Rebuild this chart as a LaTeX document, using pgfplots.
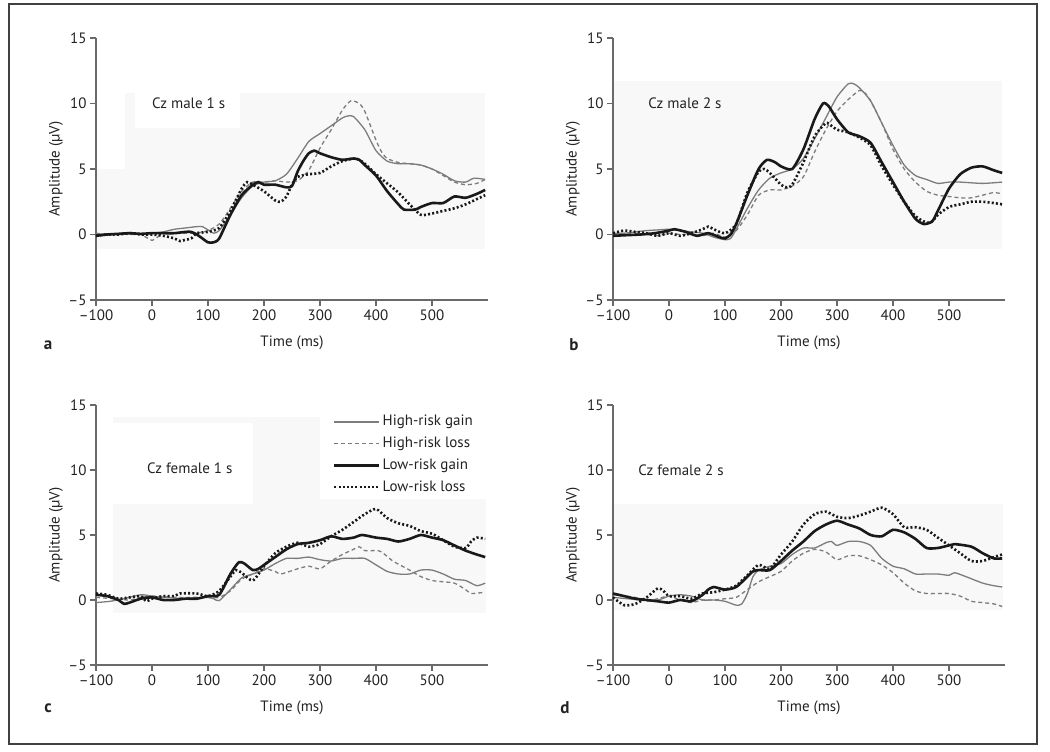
\documentclass[border=0pt]{standalone}
\usepackage{fontspec}
\setmainfont{PT Sans}
\usepackage{pgfplots}
\pgfplotsset{compat=1.18}
\definecolor{axgray}{HTML}{6A6A6A}
\definecolor{txt}{HTML}{222222}
\definecolor{hg}{HTML}{7C7C7C}
\definecolor{bgfill}{HTML}{F8F8F8}
\newcommand{\fs}{\fontsize{15}{18}\selectfont}
\pgfplotsset{
  erp/.style={
    scale only axis, width=392pt, height=262pt,
    xmin=-100, xmax=600, ymin=-5, ymax=15,
    axis lines=left, axis line style={axgray, line width=1.2pt, -},
    xtick={-100,0,100,200,300,400,500},
    xticklabels={\textendash100,0,100,200,300,400,500},
    ytick={-5,0,5,10,15}, yticklabels={\textendash5,0,5,10,15},
    tick style={axgray, line width=1.2pt}, tick align=outside, major tick length=6pt,
    tick label style={font=\fs, text=txt},
    xlabel={Time (ms)}, ylabel={Amplitude (µV)},
    every axis x label/.style={at={(axis description cs:0.5,-0.163)}, anchor=center, font=\fs, text=txt},
    every axis y label/.style={at={(axis description cs:-0.102,0.5)}, anchor=center, rotate=90, font=\fs, text=txt},
    clip=false,
  },
  hgs/.style={hg, line width=1.3pt, smooth, tension=0.4},
  hls/.style={hg, line width=1.3pt, dash pattern=on 4pt off 3pt, smooth, tension=0.4},
  lgs/.style={black!90, line width=2.6pt, smooth, tension=0.4},
  lls/.style={black!90, line width=2.6pt, dash pattern=on 2pt off 2.2pt, smooth, tension=0.4},
}
\begin{document}
\begin{tikzpicture}[x=1pt,y=1pt]
\useasboundingbox (0,0) rectangle (1050,752);
\draw[line width=2pt, black!75] (9,8) rectangle (1037,748);

% ---------------- panel a
\begin{axis}[erp, at={(96pt,452pt)}, anchor=south west]
\fill[bgfill] (axis cs:-99,-1.1) rectangle (axis cs:594,10.8);
\fill[white] (axis cs:-99,5) rectangle (axis cs:-48,10.8);
\fill[white] (axis cs:-30,8.1) rectangle (axis cs:158,10.8);
\node[anchor=west, inner sep=0, font=\fs, text=txt] at (axis cs:0,10) {Cz male 1 s};
\addplot[hgs] coordinates {(-100,0.0)(-80,0.05)(-60,0.05)(-40,0.1)(-20,0.05)(0,0.1)(20,0.2)(40,0.4)(60,0.5)(80,0.6)(90,0.6)(100,0.35)(110,0.1)(120,0.3)(140,1.5)(160,2.8)(180,3.7)(200,4.0)(220,4.1)(240,4.6)(260,5.8)(280,7.1)(300,7.7)(320,8.3)(340,8.9)(350,9.05)(360,9.0)(380,8.0)(400,6.4)(420,5.6)(440,5.4)(460,5.4)(480,5.3)(500,5.0)(520,4.6)(540,4.1)(560,4.0)(575,4.3)(595,4.2)};
\addplot[hls] coordinates {(-100,0.1)(-80,0)(-60,0.05)(-40,0)(-20,0)(0,-0.45)(10,-0.2)(20,0.1)(40,0.1)(60,0.1)(80,0.1)(100,0.3)(120,0.8)(140,2.0)(160,3.3)(180,4.0)(200,4.0)(220,4.1)(240,4.0)(260,4.1)(280,4.9)(300,6.6)(320,8.0)(340,9.5)(355,10.2)(370,10.0)(380,9.4)(400,7.2)(410,6.3)(420,5.8)(440,5.5)(460,5.4)(480,5.3)(500,5.0)(520,4.5)(540,4.0)(560,3.8)(580,3.9)(595,4.2)};
\addplot[lgs] coordinates {(-100,-0.1)(-80,0)(-60,0.05)(-40,0.1)(-20,0.05)(0,0.1)(20,0.1)(40,0.1)(60,0.2)(70,0.2)(80,0)(90,-0.3)(100,-0.6)(110,-0.6)(120,-0.3)(140,1.5)(160,3.0)(180,3.8)(190,4.0)(200,3.8)(220,3.8)(240,3.6)(250,3.7)(260,4.8)(270,5.6)(280,6.2)(290,6.4)(300,6.2)(320,5.9)(340,5.7)(360,5.8)(370,5.7)(380,5.3)(400,4.5)(420,3.3)(440,2.3)(450,1.9)(470,1.9)(480,2.1)(500,2.4)(520,2.4)(540,2.9)(560,2.8)(580,3.1)(595,3.4)};
\addplot[lls] coordinates {(-100,-0.1)(-80,0)(-60,0)(-40,0.1)(-20,0)(0,0)(20,-0.1)(40,-0.3)(50,-0.5)(60,-0.4)(70,-0.3)(80,0.1)(100,0.2)(120,0.5)(140,1.8)(160,3.5)(170,4.0)(180,3.8)(200,3.3)(220,2.6)(230,2.5)(240,2.9)(250,3.8)(260,4.4)(280,4.6)(300,4.7)(320,5.2)(340,5.6)(360,5.8)(370,5.7)(380,5.4)(400,4.6)(420,3.9)(440,3.2)(460,2.3)(480,1.5)(500,1.6)(520,1.8)(540,2.0)(560,2.3)(580,2.7)(595,3.0)};
\end{axis}

% ---------------- panel b
\begin{axis}[erp, at={(613pt,452pt)}, anchor=south west]
\fill[bgfill] (axis cs:-99,-1.1) rectangle (axis cs:595,11.7);
\node[anchor=west, inner sep=0, font=\fs, text=txt] at (axis cs:-37,10) {Cz male 2 s};
\addplot[hgs] coordinates {(-100,0.1)(-80,0.1)(-60,0.2)(-40,0.3)(-20,0.35)(0,0.4)(20,0.3)(40,0.2)(60,0.1)(80,-0.2)(100,-0.4)(110,-0.3)(120,0.4)(140,2.0)(160,3.4)(180,4.3)(200,4.7)(220,5.0)(240,5.8)(260,7.3)(280,8.9)(300,10.5)(320,11.5)(330,11.5)(340,11.2)(360,10.2)(380,8.5)(400,6.8)(420,5.3)(440,4.5)(460,4.2)(480,3.9)(500,4.0)(520,4.0)(560,3.9)(595,4.0)};
\addplot[hls] coordinates {(-100,0)(-80,0)(-60,0.1)(-40,0)(-20,-0.1)(0,0.1)(20,0)(40,0)(60,-0.1)(80,0.1)(100,-0.2)(120,0.3)(140,1.5)(160,3.0)(180,3.4)(200,3.4)(220,3.7)(240,4.4)(260,6.3)(280,8.0)(300,9.4)(320,10.3)(340,11.0)(350,10.8)(360,10.2)(380,8.5)(400,6.5)(420,5.0)(440,4.0)(460,3.3)(480,3.0)(500,2.9)(520,2.8)(540,2.8)(560,3.0)(580,3.2)(595,3.1)};
\addplot[lgs] coordinates {(-100,-0.1)(-75,-0.05)(-50,0)(-25,0.1)(0,0.3)(10,0.4)(30,0.2)(50,-0.1)(70,0.1)(90,-0.2)(100,-0.3)(110,0)(120,0.8)(140,3.0)(160,5.0)(175,5.7)(190,5.5)(200,5.2)(220,5.0)(240,6.5)(260,8.8)(275,10.0)(285,9.8)(300,8.8)(320,7.8)(340,7.5)(360,7.0)(380,5.5)(400,4.0)(420,2.5)(440,1.2)(455,0.8)(470,1.0)(480,1.8)(500,3.5)(520,4.6)(540,5.1)(560,5.2)(580,4.9)(595,4.7)};
\addplot[lls] coordinates {(-100,0.1)(-80,0.3)(-60,0.2)(-40,0.1)(-20,-0.1)(0,0.1)(20,-0.1)(40,0.1)(60,0.4)(70,0.6)(80,0.4)(100,0.1)(120,0.8)(140,3.2)(160,4.8)(170,5.0)(180,4.7)(200,3.8)(210,3.6)(220,3.8)(240,5.5)(260,7.5)(280,8.5)(290,8.3)(300,8.0)(320,7.8)(340,7.4)(360,6.8)(380,5.2)(400,3.8)(420,2.5)(440,1.4)(460,0.9)(470,1.0)(480,1.5)(500,2.1)(520,2.3)(540,2.5)(560,2.5)(580,2.4)(595,2.3)};
\end{axis}

% ---------------- panel c
\begin{axis}[erp, height=260pt, at={(96pt,87pt)}, anchor=south west,
  legend style={at={(axis cs:323,14.4)}, anchor=north west, draw=none, fill=none,
    font=\fs, text=txt, row sep=3.7pt, inner sep=0pt,
    nodes={text height=11pt, text depth=3pt, inner ysep=2pt}},
  legend cell align=left,
  legend image code/.code={\draw[#1] (0pt,0pt) -- (45pt,0pt);}]
\fill[bgfill] (axis cs:-69,-1.0) rectangle (axis cs:597,14.1);
\fill[white] (axis cs:-69,7.4) rectangle (axis cs:181,13.6);
\fill[white] (axis cs:300,7.8) rectangle (axis cs:597,14.1);
\node[anchor=west, inner sep=0, font=\fs, text=txt] at (axis cs:-9,10.1) {Cz female 1 s};
\addplot[hgs] coordinates {(-100,-0.2)(-75,-0.1)(-50,0.1)(-20,0.4)(0,0.3)(20,0.2)(40,0.15)(60,0.1)(80,0.15)(100,0.2)(110,0.1)(120,-0.05)(140,0.8)(160,1.7)(180,2.0)(200,2.3)(220,2.8)(240,3.2)(260,3.2)(280,3.3)(300,3.1)(320,3.0)(340,3.2)(360,3.2)(380,3.2)(400,2.7)(420,2.2)(440,2.0)(460,2.0)(480,2.3)(500,2.3)(520,2.0)(540,1.6)(560,1.5)(580,1.1)(595,1.3)};
\addlegendentry{High-risk gain}
\addplot[hls] coordinates {(-100,0.2)(-70,0.1)(-40,0)(-20,0.2)(0,0.3)(25,0.25)(50,0.2)(75,0.2)(100,0.2)(120,0.2)(140,0.7)(160,1.6)(180,2.0)(200,2.4)(220,2.2)(230,2.0)(260,2.4)(280,2.6)(300,2.4)(320,3.0)(340,3.5)(360,3.9)(370,4.1)(380,3.8)(400,3.8)(410,3.7)(430,3.0)(460,2.3)(480,1.8)(500,1.5)(520,1.4)(540,1.3)(560,0.8)(570,0.5)(595,0.6)};
\addlegendentry{High-risk loss}
\addplot[lgs] coordinates {(-100,0.4)(-80,0.3)(-60,0)(-50,-0.3)(-40,-0.2)(-20,0.1)(0,0.2)(20,0)(40,0)(60,0.1)(80,0.1)(100,0.3)(120,0.4)(140,2.0)(155,2.9)(165,2.8)(180,2.3)(190,2.4)(200,2.7)(220,3.3)(240,3.9)(260,4.3)(280,4.4)(300,4.6)(320,4.9)(340,4.7)(360,4.8)(375,5.0)(400,4.8)(420,4.7)(440,4.5)(460,4.7)(480,5.0)(500,4.8)(520,4.6)(540,4.2)(560,3.8)(580,3.5)(595,3.3)};
\addlegendentry{Low-risk gain}
\addplot[lls] coordinates {(-100,0.5)(-80,0.4)(-60,0.1)(-40,0.2)(-20,0.3)(-10,-0.1)(0,0.1)(20,0.3)(40,0.3)(50,0.5)(80,0.5)(100,0.3)(120,0.7)(140,1.8)(150,2.3)(160,2.1)(180,1.5)(200,2.6)(220,3.6)(240,4.1)(260,4.4)(280,4.1)(300,4.3)(320,4.9)(340,5.4)(360,6.0)(380,6.6)(400,7.0)(420,6.3)(440,5.9)(460,5.7)(480,5.3)(500,5.1)(520,4.6)(540,4.1)(560,4.0)(570,4.5)(580,4.8)(595,4.7)};
\addlegendentry{Low-risk loss}
\end{axis}

% ---------------- panel d
\begin{axis}[erp, height=260pt, at={(613pt,87pt)}, anchor=south west]
\fill[bgfill] (axis cs:-99,-0.8) rectangle (axis cs:597,7.4);
\node[anchor=west, inner sep=0, font=\fs, text=txt] at (axis cs:-55,10) {Cz female 2 s};
\addplot[hgs] coordinates {(-100,0.2)(-75,0.1)(-50,0)(-20,0)(0,0.3)(20,0.4)(40,0.3)(60,0)(80,0)(100,-0.1)(120,-0.4)(130,-0.3)(140,0.5)(150,1.8)(160,2.3)(180,2.6)(200,2.8)(220,3.5)(240,4.0)(260,4.0)(280,4.4)(290,4.5)(300,4.2)(320,4.5)(340,4.5)(360,4.2)(380,3.2)(400,2.6)(420,2.4)(440,2.0)(460,2.0)(480,2.0)(500,1.9)(510,2.1)(530,1.8)(560,1.3)(580,1.1)(595,1.0)};
\addplot[hls] coordinates {(-100,0.4)(-60,0.2)(-40,-0.1)(-20,0.1)(0,0.3)(20,0)(40,-0.2)(60,0)(80,0)(100,0.1)(120,0.2)(140,0.8)(160,1.4)(180,1.8)(200,2.2)(220,3.0)(240,3.6)(260,3.9)(280,3.7)(300,3.1)(320,3.4)(340,3.4)(360,3.1)(380,2.7)(400,2.1)(420,1.3)(440,0.7)(460,0.5)(480,0.5)(500,0.5)(520,0.3)(540,-0.1)(560,-0.2)(580,-0.3)(595,-0.5)};
\addplot[lgs] coordinates {(-100,0.5)(-80,0.3)(-60,0.1)(-40,0)(-20,-0.1)(0,-0.2)(20,0)(40,-0.1)(60,0.4)(70,0.8)(80,1.0)(100,0.8)(120,1.0)(140,1.8)(150,2.2)(160,2.3)(180,2.3)(200,3.0)(220,3.8)(240,4.5)(260,5.3)(280,5.8)(300,6.1)(320,5.8)(340,5.5)(360,5.0)(380,4.9)(400,5.4)(420,5.2)(440,4.7)(460,4.0)(480,4.0)(500,4.2)(510,4.3)(540,4.1)(560,3.6)(580,3.2)(595,3.2)};
\addplot[lls] coordinates {(-100,0.2)(-80,-0.4)(-60,-0.3)(-40,0.2)(-20,0.9)(-10,0.7)(0,0.3)(20,0.3)(40,0.1)(60,0.5)(80,0.6)(100,0.8)(120,1.1)(140,1.9)(160,2.7)(180,2.4)(200,3.5)(220,4.5)(240,5.8)(260,6.6)(280,6.8)(300,6.4)(320,6.3)(340,6.5)(360,6.8)(380,7.1)(400,6.6)(420,5.6)(440,5.6)(460,5.4)(480,4.8)(500,4.2)(520,3.6)(540,3.0)(560,3.0)(580,3.3)(595,3.5)};
\end{axis}

\node[font=\bfseries\fontsize{17}{19}\selectfont, text=txt] at (48,407) {a};
\node[font=\bfseries\fontsize{17}{19}\selectfont, text=txt] at (574,407) {b};
\node[font=\bfseries\fontsize{17}{19}\selectfont, text=txt] at (48,44) {c};
\node[font=\bfseries\fontsize{17}{19}\selectfont, text=txt] at (565,44) {d};
\end{tikzpicture}
\end{document}
